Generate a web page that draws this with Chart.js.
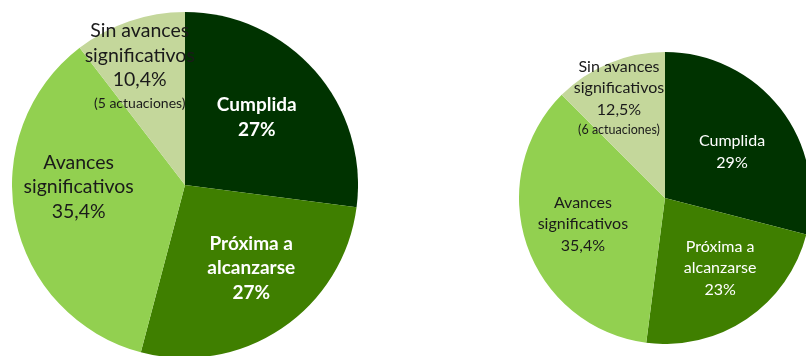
<!DOCTYPE html>
<html>
<head>
<meta charset="utf-8">
<script src="https://cdn.jsdelivr.net/npm/chart.js@4/dist/chart.umd.min.js"></script>
<style>
  html, body { margin: 0; padding: 0; background: #fff; overflow: hidden; width: 806px; height: 356px; }
  canvas { position: absolute; }
  #pieLeft { left: 12px; top: 12px; }
  #pieRight { left: 519px; top: 52px; }
</style>
</head>
<body>
<canvas id="pieLeft" width="346" height="346"></canvas>
<canvas id="pieRight" width="292" height="292"></canvas>
<script>
const categories = ['Cumplida', 'Próxima a\nalcanzarse', 'Avances\nsignificativos', 'Sin avances\nsignificativos'];
const colors = ['#003300', '#3f7f00', '#92d050', '#c4d79b'];
const textColors = ['#ffffff', '#ffffff', '#1a1a1a', '#1a1a1a'];

const valuesLeft = [27, 27, 35.4, 10.4];
const notesLeft = ['', '', '', '(5 actuaciones)'];

const valuesRight = [29, 23, 35.4, 12.5];
const notesRight = ['', '', '', '(6 actuaciones)'];

function fmtPct(v) {
    return String(v).replace('.', ',') + '%';
}

// writes the multi-line label of each slice at a polar spot (deg clockwise from top, fraction of radius)
const sliceLabels = {
    id: 'sliceLabels',
    afterDatasetsDraw(chart, args, opts) {
        const ctx = chart.ctx;
        const meta = chart.getDatasetMeta(0);
        const values = chart.data.datasets[0].data;
        meta.data.forEach((arc, i) => {
            const pos = opts.positions[i];
            const a = pos.angle * Math.PI / 180;
            const r = arc.outerRadius * pos.r;
            const cx = arc.x + Math.sin(a) * r;
            const cy = arc.y - Math.cos(a) * r;

            const lines = chart.data.labels[i].split('\n').map(t => ({ t, small: false }));
            lines.push({ t: fmtPct(values[i]), small: false });
            if (opts.notes[i]) lines.push({ t: opts.notes[i], small: true });

            const heights = lines.map(l => l.small ? opts.smallLine : opts.line);
            const total = heights.reduce((s, h) => s + h, 0);
            let y = cy - total / 2;

            ctx.save();
            ctx.textAlign = 'center';
            ctx.textBaseline = 'middle';
            ctx.fillStyle = textColors[i];
            lines.forEach((l, k) => {
                const white = textColors[i] === '#ffffff';
                const weight = (opts.boldWhite && white) ? 'bold ' : '';
                const size = l.small ? opts.smallSize : (opts.boldWhite && white ? opts.boldSize : opts.size);
                ctx.font = `${weight}${size}px Lato, "Open Sans", sans-serif`;
                ctx.fillText(l.t, cx, y + heights[k] / 2);
                y += heights[k];
            });
            ctx.restore();
        });
    }
};

function createPie(canvasId, values, labelOpts) {
    const ctx = document.getElementById(canvasId);
    return new Chart(ctx, {
        type: 'pie',
        data: {
            labels: categories,
            datasets: [{
                data: values,
                backgroundColor: colors,
                borderWidth: 0
            }]
        },
        options: {
            responsive: false,
            animation: false,
            layout: { padding: 0 },
            plugins: {
                legend: { display: false },
                tooltip: { enabled: false },
                sliceLabels: labelOpts
            }
        },
        plugins: [sliceLabels]
    });
}

createPie('pieLeft', valuesLeft, {
    notes: notesLeft,
    positions: [
        { angle: 46.7, r: 0.57 },
        { angle: 141.5, r: 0.615 },
        { angle: 269, r: 0.615 },
        { angle: 339, r: 0.73 }
    ],
    size: 19.5,
    boldSize: 19,
    smallSize: 14,
    line: 24.5,
    smallLine: 23,
    boldWhite: true
});

createPie('pieRight', valuesRight, {
    notes: notesRight,
    positions: [
        { angle: 55.5, r: 0.557 },
        { angle: 141.8, r: 0.61 },
        { angle: 252.4, r: 0.59 },
        { angle: 335.4, r: 0.757 }
    ],
    size: 16,
    boldSize: 16,
    smallSize: 12.5,
    line: 21.5,
    smallLine: 19,
    boldWhite: false
});
</script>
</body>
</html>
